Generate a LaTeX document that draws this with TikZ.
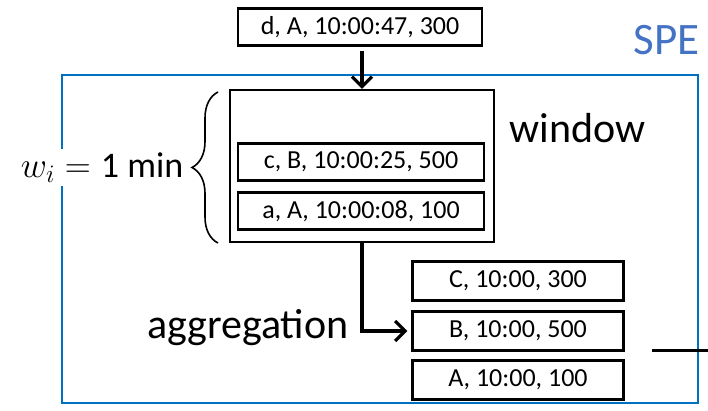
\RequirePackage{fix-cm}
\documentclass[tikz,border=0pt]{standalone}
\usepackage{amsmath}
\usepackage{fontspec}
\setmainfont{Carlito}
\usetikzlibrary{arrows.meta,positioning,decorations.pathreplacing}
\definecolor{speblue}{HTML}{0070C0}
\definecolor{spetext}{HTML}{4472C4}

\begin{document}
\begin{tikzpicture}[x=1pt,y=-1pt,
  tuple/.style={draw, line width=2.2pt, minimum height=37pt, inner sep=0pt,
                font=\fontsize{26}{30}\selectfont},
  flow/.style={line width=3.2pt, -{Straight Barb[length=10pt,width=20pt]}},
  big/.style={font=\fontsize{42}{48}\selectfont}]
  \useasboundingbox (0,0) rectangle (708,410);
  % engine border
  \draw[speblue, line width=2.4pt] (62,75) rectangle (698,403);
  \node[big, font=\fontsize{45}{50}\selectfont, color=spetext, anchor=east] (spe) at (703,40) {SPE};
  % incoming event
  \node[tuple, minimum width=244pt] (inD) at (360,27) {d, A, 10:00:47, 300};
  % window and the events it holds
  \node[draw, line width=2.2pt, minimum width=264pt, minimum height=152pt] (win) at (362,166) {};
  \node[big, anchor=west] (winlab) at (506,128) {window};
  \node[tuple, minimum width=246pt] (evC) at (361,162) {c, B, 10:00:25, 500};
  \node[tuple, minimum width=246pt] (evA) at (361,211) {a, A, 10:00:08, 100};
  \draw[decorate, decoration={brace, amplitude=26pt, aspect=0.5}, line width=1.6pt]
    (218,243) -- (218,92) node[midway, left=31pt, fill=white, inner sep=3pt,
    font=\fontsize{36}{40}\selectfont] (wlen) {$w_i = \text{1 min}$};
  % aggregated results
  \foreach \n/\lab/\yy in {C/{C, 10:00, 300}/281, B/{B, 10:00, 500}/331, A/{A, 10:00, 100}/380}
    \node[tuple, minimum width=211pt, minimum height=39pt] (out\n) at (518,\yy) {\lab};
  \draw[flow, shorten <=4pt] (win.north |- inD.south) -- (win.north);
  \draw[flow, shorten >=4pt] (win.south) |- (outB.west);
  \node[big, anchor=east] (agg) at (352,328) {aggregation};
  % output stream
  \coordinate (emitL) at (652,350);
  \coordinate (emitR) at (708,350);
  \draw[line width=3pt] (emitL) -- (emitR);
\end{tikzpicture}
\end{document}
